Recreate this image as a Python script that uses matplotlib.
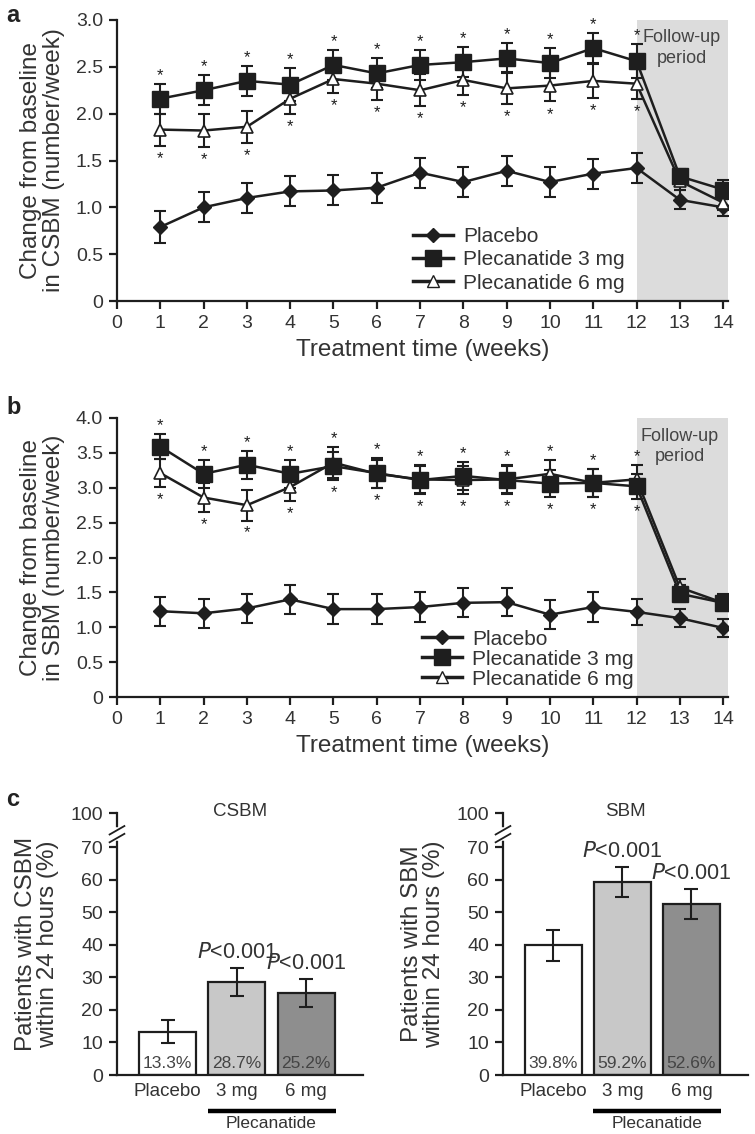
import matplotlib
matplotlib.use("Agg")
import matplotlib.pyplot as plt
from matplotlib.lines import Line2D
import matplotlib.transforms as mtransforms

plt.rcParams['font.family'] = ['Liberation Sans', 'DejaVu Sans']

# ---------------- data ----------------
weeks = list(range(1, 15))
star_weeks = list(range(1, 13))

a_placebo = [0.79, 1.00, 1.10, 1.17, 1.18, 1.21, 1.37, 1.27, 1.39, 1.27, 1.36, 1.42, 1.08, 1.00]
a_placebo_err = [0.17, 0.16, 0.16, 0.16, 0.16, 0.16, 0.16, 0.16, 0.16, 0.16, 0.16, 0.16, 0.10, 0.09]
a_3mg = [2.16, 2.25, 2.35, 2.31, 2.52, 2.43, 2.52, 2.55, 2.59, 2.54, 2.70, 2.56, 1.33, 1.19]
a_3mg_err = [0.16, 0.16, 0.16, 0.18, 0.16, 0.16, 0.16, 0.16, 0.16, 0.16, 0.16, 0.18, 0.08, 0.10]
a_6mg = [1.83, 1.82, 1.86, 2.16, 2.37, 2.32, 2.25, 2.36, 2.27, 2.30, 2.35, 2.32, 1.28, 1.05]
a_6mg_err = [0.17, 0.18, 0.17, 0.16, 0.15, 0.17, 0.17, 0.16, 0.17, 0.17, 0.18, 0.16, 0.10, 0.08]

b_placebo = [1.23, 1.20, 1.27, 1.40, 1.26, 1.26, 1.29, 1.35, 1.36, 1.18, 1.29, 1.22, 1.13, 0.99]
b_placebo_err = [0.21, 0.21, 0.21, 0.21, 0.21, 0.21, 0.21, 0.21, 0.20, 0.21, 0.22, 0.19, 0.13, 0.13]
b_3mg = [3.59, 3.20, 3.33, 3.20, 3.31, 3.21, 3.11, 3.17, 3.11, 3.06, 3.07, 3.02, 1.48, 1.35]
b_3mg_err = [0.18, 0.20, 0.20, 0.20, 0.20, 0.22, 0.20, 0.20, 0.20, 0.19, 0.20, 0.18, 0.12, 0.12]
b_6mg = [3.21, 2.86, 2.75, 3.01, 3.36, 3.20, 3.12, 3.11, 3.12, 3.20, 3.07, 3.12, 1.57, 1.35]
b_6mg_err = [0.20, 0.21, 0.22, 0.20, 0.22, 0.20, 0.20, 0.20, 0.20, 0.20, 0.20, 0.20, 0.12, 0.10]

bar_groups = ["Placebo", "3 mg", "6 mg"]
csbm_pct = [13.3, 28.7, 25.2]
csbm_err = [3.5, 4.3, 4.3]
sbm_pct = [39.8, 59.2, 52.6]
sbm_err = [4.8, 4.6, 4.7]
pvals = ["", "<0.001", "<0.001"]

series_names = ["Placebo", "Plecanatide 3 mg", "Plecanatide 6 mg"]

# ---------------- style ----------------
W, H = 755, 1134
TXT = '#333333'
LINE = '#1e1e1e'
SHADE = '#dcdcdc'
TICK_FS = 14
LABEL_FS = 17.5

fig = plt.figure(figsize=(W / 100, H / 100), dpi=100)
fig.patch.set_facecolor('white')


def px_axes(left, top, right, bottom):
    return fig.add_axes([left / W, (H - bottom) / H, (right - left) / W, (bottom - top) / H])


def style_axes(ax):
    for s in ['top', 'right']:
        ax.spines[s].set_visible(False)
    for s in ['left', 'bottom']:
        ax.spines[s].set_color(LINE)
        ax.spines[s].set_linewidth(1.6)
    ax.tick_params(direction='out', length=6, width=1.6, color=LINE,
                   labelsize=TICK_FS, labelcolor=TXT, pad=4)


def line_panel(ax, placebo, perr, d3, e3, d6, e6, ymax, ylabel, legend_anchor, lspacing,
               follow_xy):
    style_axes(ax)
    ax.set_xlim(0, 14.1)
    ax.set_ylim(0, ymax)
    ax.axvspan(12, 14.1, color=SHADE, zorder=0, lw=0)
    ax.text(follow_xy[0], follow_xy[1], "Follow-up\nperiod", ha='center', va='top',
            fontsize=13, color='#444444', linespacing=1.25, transform=ax.transData)

    ekw = dict(fmt='none', ecolor=LINE, elinewidth=1.5, capsize=4.5, capthick=1.5, zorder=3)
    ax.errorbar(weeks, placebo, yerr=perr, **ekw)
    ax.errorbar(weeks, d6, yerr=e6, **ekw)
    ax.errorbar(weeks, d3, yerr=e3, **ekw)
    ax.plot(weeks, placebo, color=LINE, lw=1.8, marker='D', ms=7, mfc=LINE, mec=LINE,
            zorder=4, label=series_names[0])
    ax.plot(weeks, d6, color=LINE, lw=1.8, marker='^', ms=9, mfc='white', mec=LINE,
            mew=1.2, zorder=5, label=series_names[2])
    ax.plot(weeks, d3, color=LINE, lw=1.8, marker='s', ms=11, mfc=LINE, mec=LINE,
            zorder=6, label=series_names[1])

    # significance stars
    for i, w in enumerate(weeks):
        if w not in star_weeks:
            continue
        top = max(d3[i] + e3[i], d6[i] + e6[i])
        bot = min(d3[i] - e3[i], d6[i] - e6[i])
        ax.text(w, top + ymax * 0.03, "*", ha='center', va='center', fontsize=12,
                color=LINE, zorder=7)
        ax.text(w, bot - ymax * 0.045, "*", ha='center', va='center', fontsize=12,
                color=LINE, zorder=7)

    ax.set_xticks(range(0, 15))
    yt = [i * 0.5 for i in range(int(ymax / 0.5) + 1)]
    ax.set_yticks(yt)
    ax.set_yticklabels(['0' if v == 0 else f'{v:.1f}' for v in yt])
    ax.set_xlabel("Treatment time (weeks)", fontsize=LABEL_FS, color=TXT, labelpad=5)
    ax.set_ylabel(ylabel, fontsize=LABEL_FS, color=TXT, labelpad=8, linespacing=1.05)

    handles = [
        Line2D([], [], color=LINE, lw=2.5, marker='D', ms=7, mfc=LINE, mec=LINE),
        Line2D([], [], color=LINE, lw=2.5, marker='s', ms=11, mfc=LINE, mec=LINE),
        Line2D([], [], color=LINE, lw=2.5, marker='^', ms=9, mfc='white', mec=LINE),
    ]
    leg = ax.legend(handles, series_names, loc='lower left', bbox_to_anchor=legend_anchor,
                    frameon=False, fontsize=15, handlelength=1.9, handletextpad=0.5,
                    labelspacing=lspacing, borderpad=0, borderaxespad=0)
    for t in leg.get_texts():
        t.set_color(TXT)


# ---------------- panel a ----------------
ax_a = px_axes(117, 20, 727.5, 301)
line_panel(ax_a, a_placebo, a_placebo_err, a_3mg, a_3mg_err, a_6mg, a_6mg_err, 3.0,
           "Change from baseline\nin CSBM (number/week)", (0.485, 0.03), 0.2, (13.05, 2.90))
fig.text(6 / W, 1 - 15 / H, "a", fontsize=17, fontweight='bold', color='#222222',
         ha='left', va='center')

# ---------------- panel b ----------------
ax_b = px_axes(117, 418, 727.5, 697)
line_panel(ax_b, b_placebo, b_placebo_err, b_3mg, b_3mg_err, b_6mg, b_6mg_err, 4.0,
           "Change from baseline\nin SBM (number/week)", (0.50, 0.03), 0.05, (13.0, 3.86))
fig.text(6 / W, 1 - 408 / H, "b", fontsize=17, fontweight='bold', color='#222222',
         ha='left', va='center')

# ---------------- panel c ----------------
bar_colors = ['white', '#c8c8c8', '#8e8e8e']
YTOP = 80.5


def bar_panel(ax, vals, errs, title, ylabel):
    style_axes(ax)
    x = list(range(len(vals)))
    ax.bar(x, vals, width=0.82, color=bar_colors, edgecolor=LINE, linewidth=1.6, zorder=2)
    ax.errorbar(x, vals, yerr=errs, fmt='none', ecolor=LINE, elinewidth=1.5, capsize=5,
                capthick=1.5, zorder=3)
    for xi, v, e, p in zip(x, vals, errs, pvals):
        ax.text(xi, 3.5, f"{v:.1f}%", ha='center', va='center', fontsize=12.5,
                color='#444444', zorder=4)
        if p:
            ax.text(xi, v + e + 1.5, "$\\mathit{P}$" + p, ha='center', va='bottom',
                    fontsize=15.5, color=TXT, zorder=4)
    ax.set_xlim(-0.73, 2.82)
    ax.set_ylim(0, YTOP)
    ax.set_yticks([0, 10, 20, 30, 40, 50, 60, 70, YTOP])
    ax.set_yticklabels(['0', '10', '20', '30', '40', '50', '60', '70', '100'])
    ax.set_xticks(x)
    ax.set_xticklabels(bar_groups)
    ax.tick_params(axis='x', length=0, pad=6, labelsize=13.5)
    ax.spines['left'].set_bounds(0, YTOP)
    ax.set_ylabel(ylabel, fontsize=LABEL_FS, color=TXT, labelpad=8, linespacing=1.05)
    ax.set_title(title, fontsize=13.5, color=TXT, pad=-2, y=1.0)
    # axis break marks
    tr = mtransforms.blended_transform_factory(ax.transAxes, ax.transData)
    ax.plot([0, 0], [72.8, 75.2], transform=tr, color='white', lw=4, clip_on=False, zorder=5)
    for yb in (72.8, 75.2):
        ax.plot([-0.03, 0.03], [yb - 1.3, yb + 1.3], transform=tr, color=LINE, lw=1.3,
                clip_on=False, zorder=6)
    # plecanatide group line
    ax.plot([0.58, 2.43], [-11.0, -11.0], color='black', lw=3.2, clip_on=False,
            solid_capstyle='butt')
    ax.text(1.5, -14.8, "Plecanatide", ha='center', va='center', fontsize=12.5, color=TXT)


ax_c1 = px_axes(117, 813, 363, 1075)
bar_panel(ax_c1, csbm_pct, csbm_err, "CSBM", "Patients with CSBM\nwithin 24 hours (%)")
ax_c2 = px_axes(503, 813, 748, 1075)
bar_panel(ax_c2, sbm_pct, sbm_err, "SBM", "Patients with SBM\nwithin 24 hours (%)")
fig.text(6 / W, 1 - 800 / H, "c", fontsize=17, fontweight='bold', color='#222222',
         ha='left', va='center')

fig.savefig("out.png", dpi=100, facecolor='white')
